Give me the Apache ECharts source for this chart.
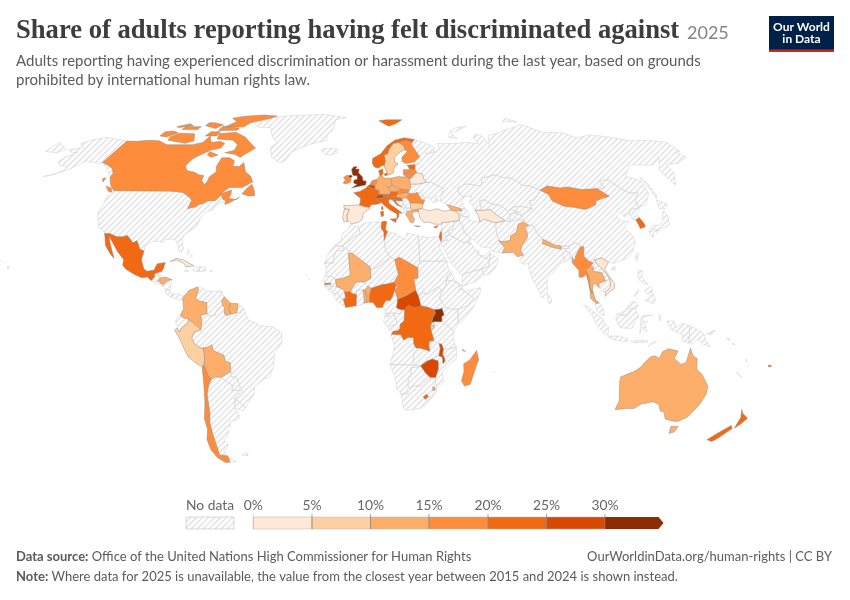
<!DOCTYPE html>
<html><head><meta charset="utf-8">
<style>html,body{margin:0;padding:0;background:#fff}#c{width:850px;height:600px}</style>
<script src="https://cdn.jsdelivr.net/npm/echarts@6/dist/echarts.min.js"></script>
</head><body><div id="c"></div>
<script>
const titleText = 'Share of adults reporting having felt discriminated against';
const yearText = '2025';
const subtitleLines = ['Adults reporting having experienced discrimination or harassment during the last year, based on grounds','prohibited by international human rights law.'];
const binEdges = [0,5,10,15,20,25,30];
const binColors = ['#fee9d8','#fdd0a2','#fdae6b','#fd8d3c','#f16913','#d94801','#8c2d04'];
const countries = ['United Kingdom','Ireland','France','Spain','Portugal','Belgium','Netherlands','Germany','Switzerland','Austria','Italy','Poland','Czechia','Slovakia','Hungary','Slovenia','Croatia','Romania','Bulgaria','Greece','Norway','Sweden','Finland','Denmark','Estonia','Latvia','Lithuania','Belarus','Turkey','Cyprus','Georgia','Israel','Tunisia','Turkmenistan','Pakistan','Nepal','Mongolia','South Korea','Myanmar','Thailand','Vietnam','Mali','Ivory Coast','Togo','Benin','Nigeria','Chad','Central African Republic','Democratic Republic of Congo','Uganda','Burundi','Gambia','Malawi','Zimbabwe','Eswatini','Lesotho','Madagascar','Comoros','Canada','Mexico','Honduras','Cuba','Colombia','Guyana','Suriname','Peru','Bolivia','Chile','Australia','New Zealand','Fiji'];
const values = [33,17,22,3,3,27,18,14,26,22,22,12,13,17,12,21,22,18,9,13,22,9,17,22,22,18,17,3,3,22,12,22,23,3,13,12,18,23,19,13,4,13,21,12,13,21,18,27,22,33,8,23,26,26,14,23,18,22,18,22,12,3,13,13,12,8,13,18,13,22,21];

const shapes = {
'USA':['-123,49 -95.2,49 -94.6,48.8 -88.4,48.3 -84.5,46.5 -82.5,45.3 -83,42 -79,42.8 -79,43.4 -76.5,44 -74.8,45 -71,45.2 -69.2,47.4 -67.8,45.7 -66.5,44.8 -70,43.5 -70.5,41.7 -74,40.6 -75.5,38 -76,35.2 -78,33.9 -81,32 -81.4,30.5 -80,26.8 -80.5,25.2 -81.8,26 -82.8,28.5 -84,30 -86,30.4 -89,30.2 -89.5,29.2 -92,29.6 -94.5,29.5 -97.2,27.8 -97.2,25.9 -99.2,26.5 -101.4,29.8 -103,29 -106.5,31.8 -108.2,31.3 -111,31.3 -114.8,32.5 -117.1,32.5 -118.5,34 -120.6,34.6 -122.5,37.5 -124.3,40.3 -124,44 -124.7,48.4','-141,69.6 -148,70.4 -156.5,71.3 -162,70.3 -166.5,68.4 -162,66.8 -165,66.3 -168,65.6 -164.5,64.5 -161,64.5 -165,62.5 -165.5,60.5 -162,59 -158,58.8 -157,57 -162,55 -164.5,54.6 -160,55.5 -155,57.5 -153,59 -151,61 -148,60.5 -145,60.3 -141,59.8 -137.5,58.8 -135,57.5 -131,55 -130,55.9 -133,58 -137,59.3 -141,60.3','-156,20.2 -155,19.6 -155.7,19 -156,19.7','-159.7,22.2 -159.3,22.1 -159.5,21.9','-158,21.7 -157.7,21.4 -158.2,21.4'],
'Canada':['-141,69.6 -135,69.5 -128,70 -122,69.8 -115,68 -108,68 -100,68 -95,69 -94,72 -90,69 -85,69.5 -81.5,68.5 -82,66.5 -87,65.5 -90,64 -93.5,62 -94.5,60 -94.8,58.9 -92.5,57 -88,56.3 -85,55.3 -82.2,55 -82,53 -79.5,51.3 -79,52.5 -79,54.5 -76.8,56.5 -78.2,58.7 -78,62.3 -73.5,62.3 -70,61 -69.5,58.8 -66,58.7 -64.5,60.3 -61.5,56.5 -58,54.8 -55.8,52.5 -60,50.2 -66.5,50.2 -69.5,47.8 -65,49.2 -64.5,47.5 -65,46 -61,45.5 -60,46.5 -63.5,44.5 -66,43.6 -66,45 -67.8,45.7 -69.2,47.4 -71,45.2 -74.8,45 -76.5,44 -79,43.4 -79,42.8 -83,42 -82.5,45.3 -84.5,46.5 -88.4,48.3 -94.6,48.8 -95.2,49 -123,49 -125.5,50.5 -128,52.5 -130,54.5 -130,55.9 -133,58 -137,59.3 -141,60.3','-59.3,47.8 -55.8,46.9 -52.8,47 -53.5,48.8 -55.8,51.5 -57.5,50','-128.3,50.7 -125,50 -123.5,48.4 -125.5,48.8','-133,54 -131.7,54 -131.5,52.5 -132.5,53','-62,66.5 -68,62.5 -72,63.8 -78,64.5 -73.5,65.5 -73.5,68 -78,70 -88,70.5 -89.5,73 -80,73.7 -72,71.5 -67,69','-117,70 -105,68.6 -101,69.7 -105,73 -115,73.3 -118,71.5','-125,72 -120,71.5 -116,73.5 -120,74.3 -125,74','-90,76.5 -78,76.3 -76,78.5 -65,81 -62,82.5 -72,83.1 -85,82.3 -92,81 -86,79 -88,78','-92,74.5 -80,74.7 -80,75.7 -92,76.8','-116,75 -106,75 -106,76.5 -116,76.5','-87,65 -81,63.5 -84,62.5 -87,63.5','-97,72 -90,72 -90,74 -96,74','-104,77 -95,75.5 -93,77.5 -100,78.5 -104,78.5','-120,76 -112,77 -116,78 -122,76.5'],
'Greenland':['-73,78.2 -68,76 -60,76 -55,71 -51,69 -53.5,66.5 -50.5,62.5 -45,60.2 -42.5,61 -40,65 -32,68 -22,70 -22,72.5 -19,75 -19,80 -12,81.5 -30,83.5 -55,82.5 -62,81.5 -66,80'],
'Iceland':['-24,65.5 -22,64 -18.5,63.4 -14.5,64.5 -14.7,66 -18,66.2 -22,66.4'],
'Mexico':['-117.1,32.5 -114.8,32.5 -111,31.3 -108.2,31.3 -106.5,31.8 -103,29 -101.4,29.8 -99.2,26.5 -97.2,25.9 -97.7,22.5 -96,19 -94.5,18.2 -91.5,18.6 -90.5,21 -87,21.5 -87.5,19 -88.2,18 -89.1,17.9 -91,17.2 -90.9,16 -92.2,14.6 -94,16 -96.5,15.7 -100,17 -104,19 -105.6,20.5 -105.5,22.5 -109,25.7 -112.5,29.5 -114.7,31.5 -113,28.5 -111.5,26 -109.8,23 -112,24.8 -115,28 -116,30.5'],
'Guatemala':['-92.2,14.6 -90.9,16 -91,17.2 -89.1,17.9 -89.2,15.9 -88.3,15.7 -89.3,14.5 -90.5,13.9'],
'Belize':['-89.1,17.9 -88.2,18 -88.3,16.3 -89.2,15.9'],
'El Salvador':['-90.1,13.8 -89.3,14.4 -87.8,13.9 -87.8,13.2'],
'Honduras':['-89.3,14.5 -88.3,15.7 -86,15.9 -83.2,15 -84.8,14.7 -87,13 -87.8,13.4 -87.8,13.9'],
'Nicaragua':['-87.5,12.9 -87,13 -84.8,14.7 -83.2,15 -83.7,11 -85.7,11.1'],
'Costa Rica':['-85.7,11.1 -83.7,11 -82.6,9.5 -83,8.3 -85.5,9.8'],
'Panama':['-83,8.3 -82.6,9.5 -79.7,9.5 -77.4,8.7 -77.9,7.2 -80.3,7.4 -81.5,7.9'],
'Cuba':['-84.9,21.9 -82.5,23.1 -79,22.4 -74.2,20.2 -77.7,19.9 -78.5,21 -82,22.4'],
'Haiti':['-74.4,18.4 -71.7,18 -71.7,19.7 -73.4,19.9'],
'Dominican Republic':['-71.7,18 -68.5,18.4 -69.5,19.8 -71.7,19.9'],
'Jamaica':['-78.3,18.3 -76.3,18 -76.8,18.5'],
'Puerto Rico':['-67.2,18 -65.7,18.2 -66.5,18.5'],
'Bahamas':['-78,25 -77.3,26.5 -77.5,24.5','-76,24.5 -75.3,24 -75.8,23.5'],
'Trinidad':['-61.9,10.1 -61,10.1 -61.2,10.8'],
'Colombia':['-77.4,8.7 -75.5,10.8 -72,12.2 -71.3,11 -72.4,8 -71,6.9 -67.5,6.2 -67.3,2 -70,1.5 -69.5,-1 -70,-4.2 -72,-2.4 -75.2,0 -77.5,0.5 -78.8,1.4 -77.4,4 -77.9,7.2'],
'Venezuela':['-72,12.2 -70,12.2 -68,10.6 -64,10.5 -61.8,10.7 -60,8.5 -61,7 -60.7,5.2 -63,3.5 -64,1.2 -66.5,1.2 -67.3,2 -67.5,6.2 -71,6.9 -72.4,8 -71.3,11'],
'Guyana':['-60,8.5 -57.2,6 -57.9,4 -56.9,2 -58.9,1.3 -59.9,2.3 -59.8,4.4 -60.7,5.2 -61,7'],
'Suriname':['-57.2,6 -54,5.8 -54.3,3.5 -54.6,2.3 -56.9,2 -57.9,4'],
'French Guiana':['-54,5.8 -51.6,4.2 -52.7,2.3 -54.6,2.3 -54.3,3.5'],
'Ecuador':['-78.8,1.4 -77.5,0.5 -75.2,0 -75.5,-1.5 -78.4,-3.4 -79,-5 -80.3,-3.4 -80,-2.5 -81,-1 -80,0.8'],
'Peru':['-81.3,-4.3 -80.3,-3.4 -79,-5 -78.4,-3.4 -75.5,-1.5 -75.2,0 -72,-2.4 -70,-4.2 -73,-5 -74,-7.3 -73,-9.4 -70.5,-11 -69.4,-11 -69,-12.5 -69,-15 -69.5,-17.5 -70.4,-18.3 -72.5,-17 -76,-14.5 -78,-10.5 -79.5,-7'],
'Bolivia':['-69.4,-11 -68,-11 -65.4,-9.8 -65,-12 -60.5,-13.8 -60,-16.3 -58,-16.5 -58,-20 -62.6,-22.2 -65,-22 -67,-23 -68.2,-21.5 -69.5,-17.5 -69,-15 -69,-12.5'],
'Brazil':['-51.6,4.2 -50,1 -50,0 -48,-1 -44,-2.5 -39,-3 -35.2,-5.3 -35,-9 -38.5,-13 -39,-17.5 -41,-22 -44,-23 -48,-25.5 -48.7,-28.5 -52,-32 -53.5,-33.7 -57.6,-30.2 -53.7,-27.2 -54.6,-25.6 -55.7,-22.2 -58,-22 -58,-20 -58,-16.5 -60,-16.3 -60.5,-13.8 -65,-12 -65.4,-9.8 -68,-11 -70.5,-11 -73,-9.4 -74,-7.3 -73,-5 -70,-4.2 -69.5,-1 -70,1.5 -67.3,2 -66.5,1.2 -64,1.2 -63,3.5 -60.7,5.2 -59.8,4.4 -59.9,2.3 -58.9,1.3 -56.9,2 -54.6,2.3 -52.7,2.3'],
'Paraguay':['-58,-20 -58,-22 -55.7,-22.2 -54.6,-25.6 -54.7,-27 -58.5,-27.3 -57.6,-25.3 -60,-24 -62.6,-22.2'],
'Uruguay':['-57.6,-30.2 -53.5,-33.7 -54.9,-34.9 -58.4,-34 -58,-32'],
'Argentina':['-65,-22 -62.6,-22.2 -60,-24 -57.6,-25.3 -58.5,-27.3 -54.7,-27 -53.7,-27.2 -57.6,-30.2 -58,-32 -58.4,-34 -57,-36.5 -57.7,-38.2 -62,-39 -62.5,-41 -65,-41 -63.7,-42.7 -65.5,-45 -67.5,-46 -66,-48 -69,-50.5 -68.4,-52.4 -72.3,-52 -72,-50 -71.8,-44 -71.5,-39.5 -70.3,-36 -70,-33 -69.7,-28.5 -68.3,-25 -67,-23','-68.6,-52.7 -68.6,-54.9 -65.3,-54.7'],
'Chile':['-70.4,-18.3 -69.5,-17.5 -68.2,-21.5 -67,-23 -68.3,-25 -69.7,-28.5 -70,-33 -70.3,-36 -71.5,-39.5 -71.8,-44 -72,-50 -72.3,-52 -68.4,-52.4 -68.6,-52.7 -68.6,-54.9 -71,-55 -74,-53 -75.5,-50 -75.5,-46 -73.5,-42 -73.5,-38 -71.5,-32 -70.5,-25'],
'Falklands':['-61,-51.8 -58,-51.3 -58,-52.2 -60.5,-52.3'],
'Norway':['5,60 5.2,62 10,64 14,67.5 19,70 25,71.1 31,70.3 29,69 26,69.9 21,69 18,68.5 15,66 14,64 12,63.5 12.2,61 11.5,59 10.5,59.2 8,58 6,58.5','11,79.5 16,80 27,80 22,78 17,76.7 14,78'],
'Sweden':['11.5,59 12.2,61 12,63.5 14,64 15,66 18,68.5 21,69 23.7,67.7 24,65.8 21.5,65 17.5,62.5 17.2,60.5 18.9,59.8 16.5,58 16,56.2 14.2,55.4 12.8,55.4 11.2,58.9'],
'Finland':['23.7,67.7 21,69 26,69.9 29,69 28.5,68 30,65 31.5,62.8 27.8,60.5 23,59.9 21.3,60.7 21.5,62.5 25,65 24,65.8'],
'Denmark':['8.2,57 10.5,57.7 10.5,56 9.7,54.9 8.7,54.9','11,55.7 12.6,56 12.5,55 11.2,55'],
'United Kingdom':['-5.7,50 -3,50.5 1.3,51.2 1.7,52.7 0,53 -0.3,54.5 -1.6,55.5 -2.3,56 -2,57.6 -4,57.7 -3,58.6 -5,58.6 -6,57.5 -5.5,55.5 -4.8,54.9 -3,54.9 -3,53.4 -4.5,53.3 -4.8,52 -3,51.4','-7.2,55 -6,55.2 -5.5,54.5 -6.3,54.1 -7.5,54.3'],
'Ireland':['-7.2,55 -7.5,54.3 -6.3,54.1 -6,53.5 -6.4,52.2 -9,51.6 -10,52 -9,53.2 -10,54.2 -8.3,55.1'],
'France':['-1.8,43.4 -1.3,44.5 -1.2,46 -4.6,48.2 -1.6,48.7 1.5,50 2.5,51 4.2,50 6,49.5 8.2,49 7.6,47.6 6,46.4 7,45.9 7.5,43.8 4,43.5 3,42.5 0.7,42.7','8.6,42.4 9.4,43 9.5,42 9.2,41.4 8.7,41.8'],
'Spain':['-9.2,43.2 -1.8,43.4 0.7,42.7 3,42.5 3.2,41.9 0.7,40.7 -0.3,39.4 0,38.7 -0.8,37.6 -2,36.8 -5.4,36.1 -6.5,37.1 -7.4,37.2 -7.5,39.7 -6.5,41.7 -8.8,41.9'],
'Portugal':['-8.8,41.9 -6.5,41.7 -7.5,39.7 -7.4,37.2 -8.9,37 -9.5,38.7'],
'Belgium':['2.5,51 4.2,51.4 6,50.8 6,49.5 4.2,50'],
'Netherlands':['3.4,51.4 4.7,53 7,53.4 7,52.2 6,50.8 4.2,51.4'],
'Germany':['7,53.4 8.7,54.9 9.7,54.9 11,54 14.2,53.9 14.7,51 12.2,50.3 13.8,48.7 13,47.5 9.7,47.5 7.6,47.6 8.2,49 6,49.5 6,50.8 7,52.2'],
'Switzerland':['6,46.4 7.6,47.6 9.7,47.5 10.4,46.7 9,45.9 7,45.9'],
'Austria':['9.7,47.5 13,47.5 13.8,48.7 17,48.7 17.1,47.7 16,46.8 13.7,46.5 10.4,46.7'],
'Italy':['7,45.9 9,45.9 10.4,46.7 13.7,46.5 13.7,45.7 12.3,45.3 12.5,44 16,41.9 18.5,40.2 16.9,40.4 16.6,38.9 15.7,38 15.9,40 12.5,41.6 10.5,43 8.8,44.4 7.5,43.8','12.5,38 15.6,38.2 15.1,36.7','8.2,40.9 9.6,41 9.6,39.2 8.5,39'],
'Poland':['14.2,53.9 18.7,54.7 19.7,54.4 22.8,54.4 23.5,53.9 23.9,52.7 23.7,51.6 24,50.7 22.7,49.2 18.8,49.5 14.7,51'],
'Czechia':['12.2,50.3 14.7,51 18.8,49.5 17,48.7 13.8,48.7'],
'Slovakia':['17,48.7 18.8,49.5 22.7,49.2 22.2,48.3 18.8,47.9 17.1,47.7'],
'Hungary':['17.1,47.7 18.8,47.9 22.2,48.3 22.9,47.9 21.3,46.2 18.8,45.9 16.6,46.4 16,46.8'],
'Slovenia':['13.7,46.5 16,46.8 16.6,46.4 15.5,45.5 13.7,45.5'],
'Croatia':['13.7,45.5 15.5,45.5 16.6,46.4 18.8,45.9 19,45 16,45.2 15.8,44.4 18.4,42.6 16,43.5 14.5,45.2'],
'Bosnia':['16,45.2 19,45 19.5,44 18.5,42.6 15.8,44.4'],
'Serbia':['18.8,45.9 21.3,46.2 22.7,44.2 22.5,42.4 20.5,42.2 19.3,43.5 19.5,44 19,45'],
'Montenegro':['18.5,42.6 19.3,43.5 20.5,42.6 19.3,41.9'],
'Albania':['19.3,41.9 20.5,42.6 20.6,41.8 21,40.4 20,39.7 19.4,40.7'],
'North Macedonia':['20.5,42.2 22.5,42.4 23,41.3 21,40.9 20.6,41.4'],
'Romania':['21.3,46.2 22.9,47.9 24.9,47.8 26.6,48.3 28.2,45.5 29.7,45.2 28.7,43.8 27,44.1 22.7,44.2'],
'Bulgaria':['22.7,44.2 27,44.1 28.7,43.8 28,42 26.3,41.8 23,41.3 22.5,42.4'],
'Greece':['21,40.9 23,41.3 26.3,41.8 26,40.8 24,40.7 23,40.2 23.2,39 24,38 23,36.5 21.7,36.9 21,38.3 20,39.7','23.6,35.5 26.3,35.3 25,35'],
'Moldova':['26.6,48.3 28.2,48 30,46.4 28.2,45.5'],
'Ukraine':['22.2,48.3 22.7,49.2 24,50.7 23.7,51.6 28,51.6 32,52.3 34.5,52.3 40,49.7 38.2,47.1 35,46.2 36.5,45.2 33.6,44.4 32.5,45.5 33.5,46 30.8,46.5 29.7,45.2 28.2,45.5 30,46.4 28.2,48 26.6,48.3 24.9,47.8 22.9,47.9'],
'Belarus':['23.9,52.7 23.7,51.6 28,51.6 32,52.3 31,53.7 30.8,55.5 28,56.2 26.5,55.5 24.5,53.9 23.5,53.9'],
'Lithuania':['21,55.3 21,56.1 25,56.3 26.5,55.5 24.5,53.9 23.5,53.9 22.8,54.4'],
'Latvia':['21,56.1 21.5,57.5 24.3,57.3 24.4,57.9 27.4,57.5 28,56.2 26.5,55.5 25,56.3'],
'Estonia':['23.5,59.2 28,59.5 27.4,57.5 24.4,57.9 24.3,58.4'],
'Russia':['31,70.3 36,69 41,67 40,64.7 35,64.3 37,63.8 44,66 44,68.5 54,68.5 60,69 68,68.5 67,71 70,73 73,72 74,68 77,72 87,74 100,76.5 105,77.7 113,73.7 125,73.5 130,71 140,72.5 150,71.5 160,69.7 170,70 180,69 180,65 177,64.7 179,62.5 170,60 163,59.5 162,56 156.5,51 155.7,57 163,62 155,59.3 143,59.3 135,54.7 141,53 140,48 135,43.5 131,42.5 130.7,42.3 131,45 135,48.4 130.5,48 127.5,50 125,53.2 120,53 120,50 116,49.8 113,49.6 108,49.4 102,50.4 98,50 92,50.8 87.5,49.2 83,51 80,51 76,54 71,54.3 69,55.3 61,54 59,50.8 52,51.7 47,50 47,48 49,46.2 47.5,45 47.7,43 48.5,41.8 46.5,41.9 43.5,42.7 40,43.5 37,45 38.2,47.1 40,49.7 34.5,52.3 32,52.3 31,53.7 30.8,55.5 28,56.2 27.4,57.5 28,59.5 30,60 27.8,60.5 31.5,62.8 30,65 28.5,68 29,69','-180,69 -175,67.5 -170,66 -173,64.4 -180,65','19.7,54.4 22.8,54.4 21,55.3','142,54.3 143.3,52 143,47 142,46 142,50','52,71.5 57,70.7 55,73 68,76.8 60,75.9 55,74','95,79 105,79 100,81'],
'Japan':['130.9,34 132.5,35.5 136,35.7 138.7,37.5 140,40 141.5,41.3 142,39.5 140.7,36 139,35 136.5,34.5 135,33.6 132.5,34.2','140,42 141.5,45.4 145.3,43.7 143,42','130,33.5 131.8,33.5 131,31 130.2,31.3','132.5,33.5 134.5,34.2 134,33.3 133,32.8'],
'Taiwan':['121,25 122,25 120.8,22 120.2,23'],
'South Korea':['126.2,37.7 128.4,38.6 129.4,36 129,35 126.5,34.4 126.5,36'],
'North Korea':['124.4,40 126.9,41.8 128.2,41.9 130.7,42.3 129.8,41 127.6,39.8 128.4,38.6 126.2,37.7 125,38'],
'Mongolia':['87.5,49.2 92,50.8 98,50 102,50.4 108,49.4 113,49.6 116,49.8 119.8,46.8 116,46 112,45 111,43.5 105,41.7 100,42.6 96,42.8 91,45 90.7,47.5'],
'China':['73.6,39.5 80,42 80,45 82.5,45.3 85,47 87.5,49.2 90.7,47.5 91,45 96,42.8 100,42.6 105,41.7 111,43.5 112,45 116,46 119.8,46.8 116,49.8 120,50 120,53 125,53.2 127.5,50 130.5,48 135,48.4 131,45 130.7,42.3 128.2,41.9 126.9,41.8 124.4,40 121.5,39 121,40.8 118,39 119,37.3 122.5,37 119.3,35 122,31.5 122,29 119.5,25.5 116.7,23 113.5,22.2 110.5,21.2 108,21.5 105.5,23.2 102,22.5 101.2,21.3 99.5,22 97.5,24 98.5,27.5 95.5,29 92,27.8 88.8,27.7 88.2,27.8 86,28 81,30.3 79,32.5 78,35.5 76,35.7 74.5,37.2','108.7,19.2 110.5,20 110.5,18.7 109.5,18.2'],
'India':['78,35.5 79,32.5 81,30.3 80.2,28.7 84,27.4 88.2,26.5 88.2,27.8 88.8,27.7 89,26.8 92,26.9 92,27.8 95.5,29 97,27.5 94,24 93.2,22 92.3,23.5 91.5,24 92,25 89.8,26 88.3,24.5 89,21.8 87,21.3 85,19.5 80.3,15.5 80,13 79.8,10.3 77.5,8 76,11 73.5,16 72.8,19 72.7,21 70,20.9 69,22.3 71,24.3 70,26 71,28 74,30.9 74.5,33 73.9,34.6 76,35.7'],
'Pakistan':['60.9,29.8 62.5,29.4 66.2,29.9 66.5,31.5 69.5,33 70.2,34 71.2,36 73.9,36.9 76,35.7 73.9,34.6 74.5,33 74,30.9 71,28 70,26 71,24.3 68.2,23.7 66.5,25.4 61.6,25.1 63.2,27.2'],
'Afghanistan':['60.9,29.8 60.6,33.5 61,36.6 64.8,37.2 67.7,37.2 70,37.5 71.4,38.2 74.5,37.2 73.9,36.9 71.2,36 70.2,34 69.5,33 66.5,31.5 66.2,29.9 62.5,29.4'],
'Iran':['44.8,39.7 47.5,39 48.9,38.4 49.5,37.4 53.9,36.9 56,38 61,36.6 60.6,33.5 60.9,29.8 63.2,27.2 61.6,25.1 57.3,25.8 56.5,27 52.5,27.5 50.2,30 48.6,30.4 46,33.2 45.5,35.9 44.5,37.5'],
'Turkey':['26,40.8 26.3,41.8 28,42 31.2,41.2 35,42 38,41 41.5,41.5 43.5,41.1 44.8,39.7 44.5,37.5 42.2,37.2 38,36.8 36.2,36.6 36,36 32.5,36.1 30.6,36.9 28,36.7 26.4,38.5 26.2,40'],
'Syria':['36.2,36.6 38,36.8 42.2,37.2 41,34.4 38.8,33.4 36.8,32.3 35.7,33.2 36.5,34.3 36,34.6 35.9,35'],
'Iraq':['42.2,37.2 44.5,37.5 45.5,35.9 46,33.2 48.6,30.4 47.7,30 47,29.1 44.7,29.2 39,32 38.8,33.4 41,34.4'],
'Jordan':['35.5,32.3 36.8,32.3 38.8,33.4 39,32 37,31.5 38,30 35,29.4 35.5,31'],
'Israel':['34.3,31.3 35.1,33.1 35.7,33.2 35.5,32.3 35.5,31 35,29.5'],
'Lebanon':['35.1,33.1 36,34.6 36.5,34.3 35.7,33.2'],
'Cyprus':['32.3,35 34.5,35.6 33.9,34.9 33,34.6'],
'Saudi Arabia':['35,29.4 38,30 37,31.5 39,32 44.7,29.2 47,29.1 48.4,28.5 50,26.5 50.8,24.8 51.6,24.2 55.2,22.7 55.7,22 55,20 52,19 48.2,18.2 45.2,17.4 43.2,16.7 42.7,17 39,21 37.2,24.5 35.2,28'],
'Kuwait':['47,29.1 47.7,30 48.4,28.5'],
'Qatar':['50.8,24.8 51.2,26.1 51.6,25'],
'UAE':['51.6,24.2 54,24.1 56.3,26 56.4,24.9 55.7,22 55.2,22.7'],
'Oman':['56.4,24.9 58.7,23.6 59.8,22.5 57.7,19 55,17 53,16.7 52,19 55,20 55.7,22'],
'Yemen':['43.2,12.7 45,12.9 49,14.3 53,16.7 52,19 48.2,18.2 45.2,17.4 43.2,16.7'],
'Georgia':['40,43.5 43.5,42.7 46.5,41.9 46.6,41.2 45,41.2 43.5,41.1 41.5,41.5'],
'Armenia':['43.5,41.1 45,41.2 46.5,39 44.8,39.7'],
'Azerbaijan':['45,41.2 46.6,41.2 46.5,41.9 48.5,41.8 50,40.3 48.9,38.4 47.5,39 46.5,39'],
'Kazakhstan':['47,48 47,50 52,51.7 59,50.8 61,54 69,55.3 71,54.3 76,54 80,51 83,51 87.5,49.2 85,47 82.5,45.3 80,45 80,42 74.5,43 71,42.5 68,41 66,43 61,44 58.5,45.5 56,45 56,41.3 52.8,41.5 52.5,42.8 51,44.5 53,46.8 49,46.7 49,46.2'],
'Uzbekistan':['56,41.3 56,45 58.5,45.5 61,44 66,43 68,41 70,42 71,41.2 73,40.8 71,40.2 68.5,40 68,37.2 65.5,37.5 62.5,39.5 60,41.7'],
'Turkmenistan':['52.8,41.5 56,41.3 60,41.7 62.5,39.5 65.5,37.5 64.8,37.2 61,36.6 56,38 53.9,36.9 53.8,39.5'],
'Tajikistan':['68,37.2 68.5,40 71,40.2 73.7,39.5 74.5,37.2 71.4,38.2 70,37.5 67.7,37.2'],
'Kyrgyzstan':['71,41.2 70,42 71,42.5 74.5,43 80,42 73.6,39.5 71,40.2 73,40.8'],
'Nepal':['80.2,28.7 81,30.3 86,28 88.2,27.8 88.2,26.5 84,27.4'],
'Bhutan':['88.8,27.7 92,27.8 92,26.9 89,26.8'],
'Bangladesh':['88.3,24.5 89.8,26 92,25 91.5,24 92.3,23.5 92.3,21 91,22.8 89,21.8'],
'Myanmar':['92.3,21 92.3,23.5 93.2,22 94,24 97,27.5 98.5,27.5 97.5,24 99.5,22 101.2,21.3 100,20.3 97.7,18.5 98.8,15.5 98.5,12 99.5,10 98.5,10 98,14 97.5,16.8 95.4,15.8 94.2,16 94.5,18.5'],
'Thailand':['97.7,18.5 100,20.3 101.2,19.5 100.5,18 102,18 104.5,17.5 105.5,14.5 102.5,13.5 102.5,12 100.8,13.4 100,13.3 99.5,11 100,9 100.5,7.2 102,6.2 101,5.8 99.5,6.8 98.3,8 98.5,10 99.5,10 98.5,12 98.8,15.5'],
'Laos':['100,20.3 101.2,21.3 102,22.5 103,20.8 104.8,19 106.5,16.8 107.5,15 105.5,14.5 104.5,17.5 102,18 100.5,18 101.2,19.5'],
'Vietnam':['102,22.5 105.5,23.2 108,21.5 105.8,19 107,17 109.3,13.5 109,11.5 106.8,10.4 104.8,8.6 105,10.4 106.5,11.2 107.5,12.5 107.5,15 106.5,16.8 104.8,19 103,20.8'],
'Cambodia':['102.5,13.5 105.5,14.5 107.5,15 107.5,12.5 106.5,11.2 105,10.4 103.5,10.6 102.5,12'],
'Malaysia':['100.5,7.2 102,6.2 103.5,4 104,1.4 103,1.5 101,3 100.3,5.5','109.6,2 111,1.5 114,1.5 115.5,4 117.5,4.2 119,5 117,7 115,5.5 113,3.2 111.3,2.5'],
'Indonesia':['109.6,2 109,0 110,-2 111,-3.3 114.5,-3.5 116.2,-3.5 117.5,-0.5 119,1 117.8,3 117.5,4.2 115.5,4 114,1.5 111,1.5','95.3,5.5 98,4 100.5,2 103.5,0 104.5,-2 106,-3 105.8,-5.8 104.5,-5.8 101,-2.5 98.7,1.5','105.5,-6.5 108.5,-6.5 111,-6.5 114.5,-7.7 114.3,-8.7 108,-7.8','119.5,-5.5 120.5,-2.8 121.5,-4.5 122.5,-4.7 121.5,-2 123,-1 120.5,-0.8 121,1.3 125,1.5 120,0.8 119.7,-2','116,-8.5 119,-8.2 123,-8.2 123,-8.8 117,-9','123.5,-10.3 127,-8.4 125,-9.3','131,-0.8 134.2,-0.8 135,-3.3 138,-1.7 141,-2.6 141,-9.1 138,-8.3 138.2,-6 133,-4 132.8,-2.8 132,-2.8','127.5,1.8 128.5,1 128,-0.8'],
'Papua New Guinea':['141,-2.6 145,-4.3 147.5,-6 148,-8 150.5,-10.5 147,-9.5 144.5,-7.7 143,-9.2 141,-9.1','148.5,-5.5 152,-4.2 150.5,-6'],
'Philippines':['120.5,18.5 122.2,18.4 121.7,15.8 124,13 122,13.8 120.5,14.5 120,16','122,7 123.5,8.5 125.5,9.7 126.5,7.5 125.5,5.7 124,6.5','122,10.5 123,11.5 125.3,12.4 125.2,10.2 123,9.5','117.2,8.4 119.5,11.2 118.8,9.8'],
'Sri Lanka':['79.8,9.7 81.8,7.5 81,6 80,6.1'],
'Morocco':['-5.9,35.8 -2.2,35.1 -1.2,32.5 -3.5,31.6 -8.7,28 -8.7,27.7 -13,27.7 -9.8,30 -9.5,32.5 -7,34'],
'Western Sahara':['-13,27.7 -8.7,27.7 -8.7,26 -12,26 -13,23 -13,21.3 -17,21.3 -16,23.5 -14.5,26'],
'Algeria':['-2.2,35.1 1,36.5 5,36.9 8.6,36.9 8.3,34.5 9.5,33 9.5,30 10,26 12,23.5 6,19.5 3.2,19 3,19.9 -4.8,25 -8.7,27.3 -8.7,28 -3.5,31.6 -1.2,32.5'],
'Tunisia':['8.6,36.9 10,37.3 11,37 10.5,35.5 10.2,34 11.2,33.2 10.3,31.7 9.5,30 9.5,33 8.3,34.5'],
'Libya':['11.2,33.2 15,32.4 19,30.3 20,32.8 25,31.7 25,22 24,19.5 16,23.5 14,22.5 12,23.5 10,26 9.5,30 10.3,31.7'],
'Egypt':['25,31.7 29,31 32,31.2 34.3,31.3 35,29.5 34.2,28 33.6,28 35.7,24 37,22 31.5,22 25,22'],
'Sudan':['25,22 31.5,22 37,22 37.5,18.8 38.6,18 36.5,16 36,12.5 34.2,10.5 33,12 32,12 28,9.4 26,10 24,8.7 22.8,11 22.5,13.5 22,15 24,15.7 24,19.5'],
'South Sudan':['24,8.7 26,10 28,9.4 32,12 33,12 34.2,10.5 33,8 35,5.3 33.5,3.8 30.8,3.5 28,4.5 25,5'],
'Eritrea':['36.5,16 38.6,18 39.8,15 43,12.7 41.5,13.4 39,14.6 37,14.5'],
'Djibouti':['42,12.9 43.3,12.5 43,11.5 42,11'],
'Ethiopia':['36,12.5 36.5,16 37,14.5 39,14.6 41.5,13.4 42,12.9 42,11 43,11.5 44,10.4 48,8 45,5 42,4 41,3.9 39.5,3.5 36,4.4 35,5.3 33,8 34.2,10.5'],
'Somalia':['43,11.5 44.5,10.5 51,12 51,10.5 47.5,4.3 42,-1.5 41,-1.5 41,3.9 42,4 45,5 48,8 44,10.4'],
'Kenya':['34,4.2 36,4.4 39.5,3.5 41,3.9 41,-1.5 39.2,-4.7 37.7,-3.5 34,-1 34,1 35,1.5'],
'Uganda':['30.8,3.5 33.5,3.8 34,4.2 35,1.5 34,1 34,-1 30.5,-1 29.6,-1.4 30,0.5 31.2,2.2'],
'Rwanda':['29.6,-1.4 30.5,-1 30.8,-2.3 29,-2.8'],
'Burundi':['29,-2.8 30.8,-2.3 30.5,-3.5 29.4,-4.4'],
'Tanzania':['30.5,-1 34,-1 37.7,-3.5 39.2,-4.7 38.8,-6.5 39.5,-9 40.4,-10.5 38,-11.3 34.9,-11.5 34,-9.5 32.9,-9.4 30.7,-8.2 29.4,-4.4 30.5,-3.5 30.8,-2.3'],
'Democratic Republic of Congo':['18,3.5 19.5,5.2 22.5,4.2 25,5 28,4.5 30.8,3.5 31.2,2.2 30,0.5 29.6,-1.4 29,-2.8 29.4,-4.4 30.7,-8.2 28.7,-8.5 28.5,-10 29,-12.3 27.2,-11.7 24.5,-11 23,-11 22,-9.5 21.8,-7 19.5,-7 17.6,-8 16.3,-6 13,-5.8 12.2,-6 13,-4.7 15,-4.5 16,-3.5 16,-2 17.7,-0.7 17.8,1'],
'Congo':['11,-3.7 12.2,-5 13,-4.7 15,-4.5 16,-3.5 16,-2 17.7,-0.7 17.8,1 18,3.5 16.5,3.5 16,2 13.2,2.2 14,1.5 13.2,1.3 14.5,-0.5 14.3,-2 12.5,-2.5'],
'Angola':['12.2,-6 13,-5.8 16.3,-6 17.6,-8 19.5,-7 21.8,-7 22,-9.5 23,-11 24,-11 22,-13 22,-16.5 23.2,-17.5 18.5,-17.4 14,-17.4 11.8,-17.3 13.5,-12 13.7,-10.5 13,-8.5'],
'Gabon':['9.5,1 11.3,1 11.3,2.2 13.2,2.2 14,1.5 13.2,1.3 14.5,-0.5 14.3,-2 12.5,-2.5 11,-3.7 8.8,-0.7'],
'Equatorial Guinea':['9.5,2.2 11.3,2.2 11.3,1 9.5,1'],
'Cameroon':['8.5,4.5 9.5,3.9 9.8,2.2 13.2,2.2 16,2 16.5,3.5 14.5,4.2 15,7.5 13.9,11 15,12 14.2,12.8 14,11.5 12.8,8.7 11.7,7 10,7 8.8,5.5'],
'Central African Republic':['14.5,4.2 16.5,3.5 18,3.5 19.5,5.2 22.5,4.2 25,5 24,8.7 22.8,11 19,9 15,7.5'],
'Chad':['14,22.5 16,23.5 24,19.5 24,15.7 22,15 22.5,13.5 22.8,11 19,9 15,7.5 13.9,11 15,12 14.2,12.8 13.5,14 15.5,16.8'],
'Niger':['3.2,19 6,19.5 12,23.5 14,22.5 15.5,16.8 13.5,14 11,13.4 8,13 3.6,11.7 2.2,12.5 0.3,14 3.5,15.5'],
'Nigeria':['2.7,6.4 2.7,9 3.6,11.7 8,13 11,13.4 13.5,14 14.2,12.8 14,11.5 12.8,8.7 11.7,7 10,7 8.8,5.5 8.5,4.5 6,4.3 4.3,6.3'],
'Benin':['1.6,6.2 1.6,9 0.8,11 2.2,12.5 3.6,11.7 2.7,9 2.7,6.4'],
'Togo':['0.5,6 1.6,6.2 1.6,9 0.8,11 0,11 0.5,8'],
'Ghana':['-3,5 -2.8,9.3 -2.8,11 0,11 0.5,8 0.5,6 -1,5.2'],
'Burkina Faso':['-5.5,10.5 -4.5,12 -3.5,13.5 -2,14.3 0.3,14 2.2,12.5 0.8,11 0,11 -2.8,11 -2.8,9.3 -4.7,9.7'],
'Ivory Coast':['-7.5,4.4 -3,5 -2.8,9.3 -4.7,9.7 -5.5,10.5 -8,10.3 -7.5,8 -8.5,7.5'],
'Mali':['-12,15 -11.5,12.4 -8.5,11.2 -8,10.3 -5.5,10.5 -4.5,12 -3.5,13.5 -2,14.3 0.3,14 3.5,15.5 3.2,19 3,19.9 -4.8,25 -6.5,25 -5.5,16.5 -9,15.5'],
'Mauritania':['-16.5,16.5 -16,19 -17,21.3 -13,21.3 -13,23 -12,26 -8.7,26 -8.7,27.3 -4.8,25 -6.5,25 -5.5,16.5 -9,15.5 -12,15 -13,16'],
'Senegal':['-17.5,14.7 -16.5,16.5 -13,16 -12,15 -11.5,12.4 -13.7,12.5 -16.7,12.4 -16.8,13.1 -14,13.2 -14,13.6 -16.6,13.6'],
'Gambia':['-16.8,13.1 -16.6,13.6 -14,13.6 -14,13.2'],
'Guinea-Bissau':['-16.7,12.4 -13.7,12.5 -13.7,11.3 -15,11'],
'Guinea':['-13.7,12.5 -11.5,12.4 -8.5,11.2 -8,10.3 -7.5,8 -8.5,7.5 -10,8.5 -11,10 -13,9.5 -15,11 -13.7,11.3'],
'Sierra Leone':['-13,9.5 -11,10 -10,8.5 -11.5,7'],
'Liberia':['-11.5,7 -10,8.5 -8.5,7.5 -7.5,4.4'],
'Zambia':['22,-13 24,-11 24.5,-11 27.2,-11.7 29,-12.3 28.5,-10 28.7,-8.5 30.7,-8.2 32.9,-9.4 33.5,-11 33,-14 30.2,-15.2 28,-16 25.2,-17.8 23.2,-17.5 22,-16.5'],
'Malawi':['32.9,-9.4 34,-9.5 34.9,-11.5 34.6,-13.5 35.3,-14.5 35.8,-16 35,-17 34.5,-14.5 33,-14 33.5,-11'],
'Mozambique':['34.9,-11.5 38,-11.3 40.4,-10.5 40.7,-15 37,-17.8 34.9,-20 35.5,-24 32.8,-26 32,-24.5 32,-22.3 33,-19 32.8,-16 30.2,-15.2 33,-14 34.5,-14.5 35,-17 35.8,-16 35.3,-14.5 34.6,-13.5'],
'Zimbabwe':['25.2,-17.8 28,-16 30.2,-15.2 32.8,-16 33,-19 32,-22.3 29.5,-22.2 27.5,-20.5'],
'Namibia':['11.8,-17.3 14,-17.4 18.5,-17.4 23.2,-17.5 25.2,-17.8 23.5,-18.5 21,-18.3 21,-22 20,-22 20,-28.4 17,-28.5 15,-26.5 14.3,-22.5'],
'Botswana':['21,-18.3 23.5,-18.5 25.2,-17.8 27.5,-20.5 29.5,-22.2 26.5,-24.7 25.5,-25.6 23,-25.3 20.7,-26.8 20,-24.8 20,-22 21,-22'],
'South Africa':['17,-28.5 20,-28.4 20.7,-26.8 23,-25.3 25.5,-25.6 26.5,-24.7 29.5,-22.2 32,-22.3 32,-24.5 31,-25.8 32,-27 32.8,-26 32.8,-27.5 31,-30 28,-33 25.7,-34 20,-34.8 18.4,-34 18,-32'],
'Eswatini':['31,-25.9 32,-25.9 32.1,-27.2 31,-27.2'],
'Lesotho':['27,-29.6 28.5,-28.6 29.4,-29.5 28,-30.6'],
'Madagascar':['49.3,-12 50.4,-15.5 49.5,-18 47.5,-24.8 45,-25.5 43.5,-23.5 44.3,-20 44,-17 46.5,-15.6'],
'Comoros':['43.2,-11.4 43.6,-12 44.6,-12.3 43.3,-12'],
'Mauritius':['57.3,-20 57.8,-20.2 57.4,-20.5'],
'Cape Verde':['-25.2,17 -24.6,16.6 -25,16.4','-23.8,15.3 -23.3,15 -23.7,14.8'],
'Australia':['113.5,-22 114.2,-21.8 117,-20.6 119,-20 122,-18 122.5,-17 125,-14.5 127,-14 129,-15 130,-12.5 132.5,-11.3 136.8,-12.2 135.5,-15 139,-17.3 141,-16.5 142,-11 143.5,-14 145.5,-15 146.2,-19 149,-21 153,-25.5 153.5,-28.5 152.5,-32.5 150,-37.2 146.5,-39 143.5,-38.8 140,-38 138,-35.5 136,-35 135.5,-34.7 134,-32.5 131,-31.5 126,-32.3 123.5,-34 120,-34 115,-34.5 115.5,-31 114.2,-27 113.5,-24','144.7,-40.8 148.2,-40.9 148,-43 146,-43.6'],
'New Zealand':['172.8,-34.4 174.5,-36 178,-37.7 177,-39.5 175.3,-41.6 174.8,-39.8 174.7,-37.5','172.7,-40.5 174.3,-41.7 171,-45.5 169.5,-46.7 166.5,-46 168.5,-44 171,-42'],
'New Caledonia':['164,-20.2 167,-22.3 166,-21.8'],
'Fiji':['177.3,-17.5 178.7,-17.8 178.2,-18.3 177.3,-18.1'],
'Vanuatu':['167,-15 167.5,-16.5 166.8,-15.8','168.2,-17.5 168.5,-17.9 168,-17.9'],
'Solomon Islands':['157,-7 159,-8 158,-8','160,-9 161,-9.8 160,-9.6']
};

// Robinson projection tables, every 5 degrees of latitude
const robA=[1,.9986,.9954,.99,.9822,.973,.96,.9427,.9216,.8962,.8679,.835,.7986,.7597,.7186,.6732,.6213,.5722,.5322];
const robB=[0,.062,.124,.186,.248,.31,.372,.434,.4958,.5571,.6176,.6769,.7346,.7903,.8435,.8936,.9394,.9761,1];
const MAP_X0=363, MAP_KX=2.32, MAP_Y0=319, MAP_KY=212;
function robLookup(t,lat){const a=Math.min(Math.abs(lat),89.999)/5,i=Math.floor(a),f=a-i;return t[i]+(t[i+1]-t[i])*f;}
function project(p){const lat=p[1];return [MAP_X0+MAP_KX*robLookup(robA,lat)*p[0],MAP_Y0-MAP_KY*robLookup(robB,lat)*(lat<0?-1:1)];}
function unproject(p){const b=Math.abs(MAP_Y0-p[1])/MAP_KY;let i=0;while(i<17&&robB[i+1]<b)i++;const lat=(i+(b-robB[i])/(robB[i+1]-robB[i]))*5*(p[1]>MAP_Y0?-1:1);return [(p[0]-MAP_X0)/(MAP_KX*robLookup(robA,lat)),lat];}

const parseRing=s=>{const r=s.split(' ').map(q=>q.split(',').map(Number));r.push(r[0]);return r;};
const names=Object.keys(shapes).sort((a,b)=>(countries.includes(a)?1:0)-(countries.includes(b)?1:0));
const geojson={type:'FeatureCollection',features:names.map(n=>({type:'Feature',properties:{name:n},geometry:{type:'MultiPolygon',coordinates:shapes[n].map(s=>[parseRing(s)])}}))};
echarts.registerMap('world',geojson);

let xMin=1e9,xMax=-1e9,yMin=1e9,yMax=-1e9;
names.forEach(n=>shapes[n].forEach(s=>parseRing(s).forEach(p=>{const q=project(p);xMin=Math.min(xMin,q[0]);xMax=Math.max(xMax,q[0]);yMin=Math.min(yMin,q[1]);yMax=Math.max(yMax,q[1]);})));

function hatch(){const s=6,c=document.createElement('canvas');c.width=s;c.height=s;const g=c.getContext('2d');g.strokeStyle='#e2e2e2';g.lineWidth=1.5;g.lineCap='square';
 [[0,s,s,0],[-s,s,s,-s],[0,2*s,2*s,0]].forEach(l=>{g.beginPath();g.moveTo(l[0],l[1]);g.lineTo(l[2],l[3]);g.stroke();});return c;}
const pattern={image:hatch(),repeat:'repeat'};

const SANS='Lato, "Noto Sans", sans-serif';
const legendEls=[];
const LX=[253.3,312,370.5,429,488,546.5,605], LEND=657, LY=517, LH=12;
binColors.forEach((col,i)=>{
  const x=LX[i], w=(i<LX.length-1?LX[i+1]:LEND)-x;
  if(i<binColors.length-1) legendEls.push({type:'rect',shape:{x,y:LY,width:w,height:LH},style:{fill:col,stroke:'#b5b5b5',lineWidth:.5}});
  else legendEls.push({type:'polygon',shape:{points:[[x,LY],[LEND+1.5,LY],[LEND+6.5,LY+6],[LEND+1.5,LY+LH],[x,LY+LH]]},style:{fill:col}});
});
binEdges.forEach((e,i)=>{
  legendEls.push({type:'line',shape:{x1:LX[i],y1:514,x2:LX[i],y2:LY+LH},style:{stroke:i?'#8a6a55':'#b5b5b5',lineWidth:.6},z:5});
  legendEls.push({type:'text',x:LX[i],y:505.5,style:{text:e+'%',fill:'#666',font:'13.8px '+SANS,textAlign:'center',textVerticalAlign:'middle'}});
});
legendEls.push({type:'rect',shape:{x:186,y:LY,width:48,height:LH},style:{fill:pattern,stroke:'#c8c8c8',lineWidth:.7}});
legendEls.push({type:'text',x:210,y:505.5,style:{text:'No data',fill:'#666',font:'13.8px '+SANS,textAlign:'center',textVerticalAlign:'middle'}});

const txt=(x,y,text,font,fill,align)=>({type:'text',x,y,style:{text,font,fill,textAlign:align||'left',textVerticalAlign:'middle'}});
const headerEls=[
 txt(16,31.5,titleText,'bold 26.6px "Liberation Serif", serif','#3d3d3d'),
 txt(687,33,yearText,'18px '+SANS,'#858585'),
 txt(16,61,subtitleLines[0],'15px '+SANS,'#5b5b5b'),
 txt(16,80.5,subtitleLines[1],'15px '+SANS,'#5b5b5b'),
 {type:'rect',shape:{x:769,y:16,width:65,height:36},style:{fill:'#002147'}},
 {type:'rect',shape:{x:769,y:49.5,width:65,height:2.5},style:{fill:'#ce261e'}},
 txt(801.5,27,'Our World','bold 12px '+SANS,'#fff','center'),
 txt(801.5,39,'in Data','bold 12px '+SANS,'#fff','center'),
 {type:'text',x:16,y:556.5,style:{text:'{b|Data source:} Office of the United Nations High Commissioner for Human Rights',font:'13px '+SANS,fill:'#5b5b5b',textVerticalAlign:'middle',rich:{b:{font:'bold 13px '+SANS,fill:'#5b5b5b'}}}},
 {type:'text',x:832,y:556.5,style:{text:'OurWorldinData.org/human-rights | CC BY',font:'13px '+SANS,fill:'#5b5b5b',textAlign:'right',textVerticalAlign:'middle'}},
 {type:'text',x:16,y:577,style:{text:'{b|Note:} Where data for 2025 is unavailable, the value from the closest year between 2015 and 2024 is shown instead.',font:'13px '+SANS,fill:'#5b5b5b',textVerticalAlign:'middle',rich:{b:{font:'bold 13px '+SANS,fill:'#5b5b5b'}}}}
];

const chart=echarts.init(document.getElementById('c'),null,{renderer:'canvas'});
chart.setOption({
 animation:false,backgroundColor:'#fff',tooltip:{show:false},
 visualMap:{show:false,type:'piecewise',seriesIndex:0,pieces:binColors.map((c,i)=>({gte:binEdges[i],lt:i<binEdges.length-1?binEdges[i+1]:1000,color:c}))},
 series:[{type:'map',map:'world',projection:{project,unproject},roam:false,silent:true,
  left:xMin,top:yMin,width:xMax-xMin,height:yMax-yMin,
  label:{show:false},emphasis:{disabled:true},select:{disabled:true},
  itemStyle:{areaColor:pattern,borderColor:'#d5d5d5',borderWidth:.6},
  data:countries.map((n,i)=>({name:n,value:values[i],itemStyle:{borderColor:'#9a8a80',borderWidth:.5}}))}],
 graphic:{elements:headerEls.concat(legendEls)}
});
</script></body></html>
